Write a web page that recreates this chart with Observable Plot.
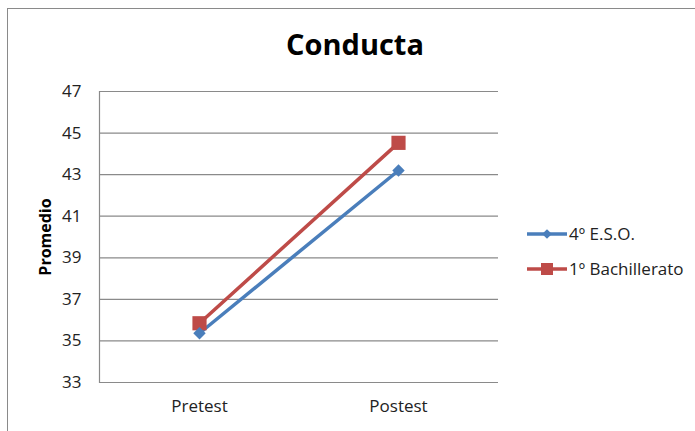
<!DOCTYPE html>
<html>
<head>
<meta charset="utf-8">
<script src="https://cdn.jsdelivr.net/npm/d3@7"></script>
<script src="https://cdn.jsdelivr.net/npm/@observablehq/plot@0.6"></script>
<style>
  html, body { margin: 0; padding: 0; background: #fff; }
  #wrap { position: relative; width: 695px; height: 431px; overflow: hidden; font-family: "Open Sans", sans-serif; }
  #border { position: absolute; left: 7px; top: 8px; width: 720px; height: 460px; border: 1.5px solid #8a8a8a; box-sizing: border-box; }
  #title { position: absolute; left: 0; width: 710px; top: 24px; text-align: center; font-size: 29px; font-weight: bold; color: #000; }
  #chart { position: absolute; left: 0; top: 0; }
  #legend { position: absolute; left: 527px; top: 216px; font-size: 17px; color: #222; }
  .item { display: flex; align-items: center; height: 35px; }
  .item svg { margin-right: 2px; }
</style>
</head>
<body>
<div id="wrap">
  <div id="border"></div>
  <div id="chart"></div>
  <div id="title">Conducta</div>
  <div id="legend"></div>
</div>
<script>
const categories = ["Pretest", "Postest"];
const seriesNames = ["4º E.S.O.", "1º Bachillerato"];
const eso = [35.37, 43.2];
const bach = [35.85, 44.53];
const yTicks = [33, 35, 37, 39, 41, 43, 45, 47];
const colors = ["#4A7EBB", "#BE4B48"];

const rows = [];
categories.forEach((c, i) => {
  rows.push({cat: c, serie: seriesNames[0], v: eso[i]});
  rows.push({cat: c, serie: seriesNames[1], v: bach[i]});
});
const esoRows = rows.filter(d => d.serie === seriesNames[0]);
const bachRows = rows.filter(d => d.serie === seriesNames[1]);

const plot = Plot.plot({
  width: 695,
  height: 431,
  marginLeft: 99,
  marginRight: 197,
  marginTop: 91,
  marginBottom: 49,
  style: {fontFamily: "'Open Sans', sans-serif", fontSize: "17px", color: "#222", background: "transparent", overflow: "visible"},
  x: {type: "point", domain: categories, padding: 0.5, label: null},
  y: {domain: [33, 47], ticks: yTicks, label: null},
  marks: [
    Plot.gridY(yTicks, {stroke: "#8a8a8a", strokeOpacity: 1, strokeWidth: 1.2}),
    Plot.frame({anchor: "left", stroke: "#8a8a8a", strokeWidth: 1.2}),
    Plot.axisY(yTicks, {tickSize: 0, tickPadding: 18, fontSize: 17, fill: "#222"}),
    Plot.axisX({tickSize: 0, tickPadding: 17, fontSize: 17, fill: "#222"}),
    Plot.text(["Promedio"], {frameAnchor: "left", dx: -54, rotate: -90, textAnchor: "middle", fontWeight: "bold", fontSize: 16, fill: "#000"}),
    Plot.line(esoRows, {x: "cat", y: "v", stroke: colors[0], strokeWidth: 3.5}),
    Plot.line(bachRows, {x: "cat", y: "v", stroke: colors[1], strokeWidth: 3.5}),
    Plot.dot(bachRows, {x: "cat", y: "v", symbol: "square", r: 8, fill: colors[1]}),
    Plot.dot(esoRows, {x: "cat", y: "v", symbol: "diamond2", r: 5.6, fill: colors[0]})
  ]
});
document.getElementById("chart").appendChild(plot);

// legend
const legend = document.getElementById("legend");
seriesNames.forEach((name, i) => {
  const item = document.createElement("div");
  item.className = "item";
  const sw = d3.create("svg").attr("width", 40).attr("height", 16);
  sw.append("line").attr("x1", 0).attr("x2", 40).attr("y1", 8).attr("y2", 8)
    .attr("stroke", colors[i]).attr("stroke-width", 3.5);
  if (i === 0) {
    sw.append("path").attr("d", d3.symbol(d3.symbolDiamond2, 60)()).attr("transform", "translate(20,8)").attr("fill", colors[i]);
  } else {
    sw.append("rect").attr("x", 14).attr("y", 2).attr("width", 12).attr("height", 12).attr("fill", colors[i]);
  }
  item.appendChild(sw.node());
  const t = document.createElement("span");
  t.textContent = name;
  item.appendChild(t);
  legend.appendChild(item);
});
</script>
</body>
</html>
